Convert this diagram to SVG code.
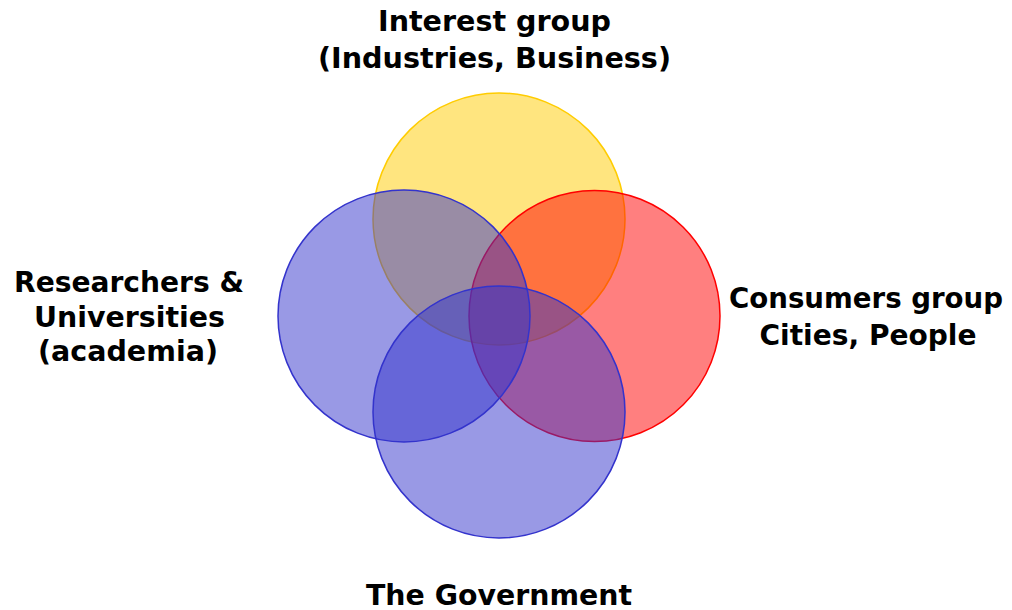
<svg xmlns="http://www.w3.org/2000/svg" width="1012" height="610" viewBox="0 0 1012 610">
  <style>
    .lbl { font-family: "DejaVu Sans", Verdana, sans-serif; font-weight: bold; font-size: 29px; fill: #000; text-anchor: middle; }
    .lbl.edge { font-size: 28px; }
    .set { stroke-width: 1.5; }
    .yellow { fill: rgb(255,204,0); fill-opacity: 0.5; stroke: #FFCC00; }
    .red { fill: rgb(255,0,0); fill-opacity: 0.5; stroke: #FF0000; }
    .blue { fill: rgb(51,51,204); fill-opacity: 0.5; stroke: #3333CC; }
  </style>
  <rect width="1012" height="610" fill="#FFFFFF"/>

  <!-- stakeholder circles -->
  <g id="interest-group">
    <circle class="set yellow" cx="499" cy="219" r="126"/>
  </g>
  <g id="consumers-group">
    <circle class="set red" cx="594.5" cy="316" r="125.5"/>
  </g>
  <g id="researchers">
    <circle class="set blue" cx="404" cy="316" r="126"/>
  </g>
  <g id="government">
    <circle class="set blue" cx="499" cy="412" r="126"/>
  </g>

  <!-- labels -->
  <g id="labels">
    <text class="lbl" x="494.5" y="31" textLength="233" lengthAdjust="spacingAndGlyphs">Interest group</text>
    <text class="lbl" x="494.5" y="68" textLength="353" lengthAdjust="spacingAndGlyphs">(Industries, Business)</text>
    <text class="lbl" x="129" y="292" textLength="230" lengthAdjust="spacingAndGlyphs">Researchers &amp;</text>
    <text class="lbl" x="129.5" y="327" textLength="191" lengthAdjust="spacingAndGlyphs">Universities</text>
    <text class="lbl" x="128" y="361" textLength="180" lengthAdjust="spacingAndGlyphs">(academia)</text>
    <text class="lbl edge" x="866" y="308" textLength="274" lengthAdjust="spacingAndGlyphs">Consumers group</text>
    <text class="lbl" x="868" y="345" textLength="217" lengthAdjust="spacingAndGlyphs">Cities, People</text>
    <text class="lbl" x="499" y="605" textLength="266" lengthAdjust="spacingAndGlyphs">The Government</text>
  </g>
</svg>
